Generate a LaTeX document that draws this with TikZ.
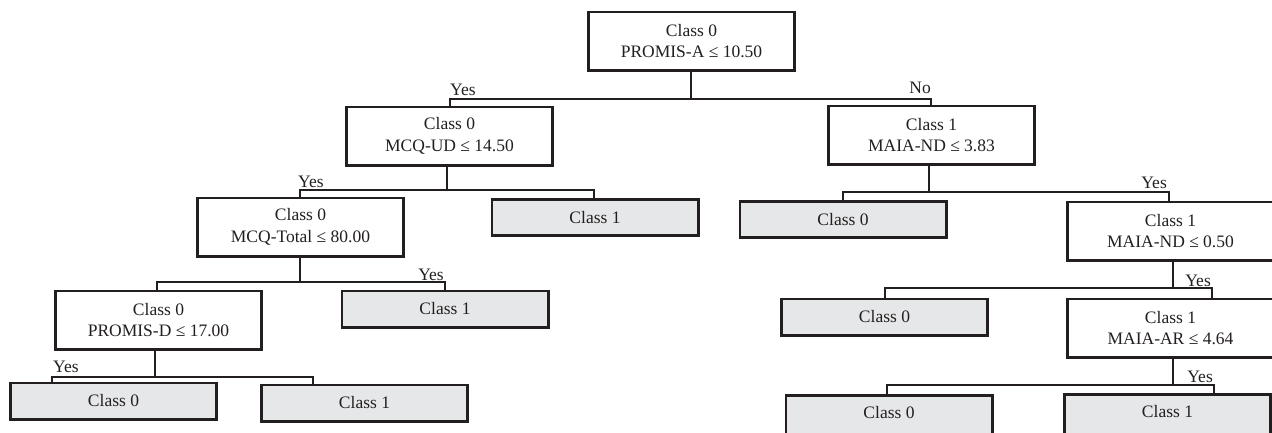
\documentclass[tikz,border=0pt]{standalone}
\usepackage{fontspec}
\setmainfont{Liberation Serif}
\definecolor{ink}{RGB}{35,31,32}
\definecolor{leafgray}{RGB}{230,231,232}
\begin{document}
\begin{tikzpicture}[x=1pt,y=-1pt,
  every node/.style={text=ink, font=\fontsize{17.5}{21.5}\selectfont},
  decision/.style={draw=ink, line width=2.6pt, fill=white, minimum width=206.4pt, minimum height=58.4pt, inner sep=0pt, align=center},
  leaf/.style={draw=ink, line width=2.6pt, fill=leafgray, minimum width=206.4pt, minimum height=36.4pt, inner sep=0pt, align=center},
  cutleaf/.style={leaf, minimum height=44pt, text height=12pt, text depth=0pt},
  conn/.style={draw=ink, line width=1.6pt},
  lab/.style={inner sep=0pt}]
\useasboundingbox (0,0) rectangle (1272,432);
\clip (0,0) rectangle (1272,432);
% decision nodes
\node[decision] (root)    at (691.5,41)  {Class 0\\PROMIS-A ≤ 10.50};
\node[decision] (mcqud)   at (449.5,136) {Class 0\\MCQ-UD ≤ 14.50};
\node[decision] (maia1)   at (931.5,135) {Class 1\\MAIA-ND ≤ 3.83};
\node[decision] (mcqtot)  at (300.5,227) {Class 0\\MCQ-Total ≤ 80.00};
\node[decision] (promisd) at (158.5,320) {Class 0\\PROMIS-D ≤ 17.00};
\node[decision] (maia2)   at (1170.5,231) {Class 1\\MAIA-ND ≤ 0.50};
\node[decision] (maiaar)  at (1170.5,328) {Class 1\\MAIA-AR ≤ 4.64};
% leaves
\node[leaf] (l1) at (595,217.5)  {Class 1};
\node[leaf] (l2) at (843,219.5)  {Class 0};
\node[leaf] (l3) at (445,309)    {Class 1};
\node[leaf] (l4) at (884.5,317)  {Class 0};
\node[leaf] (l5) at (113.5,401)  {Class 0};
\node[leaf] (l6) at (364.5,403)  {Class 1};
\node[cutleaf] (l7) at (889,417.3)  {\raisebox{5pt}{Class 0}};
\node[cutleaf] (l8) at (1167.5,416.3) {\raisebox{5pt}{Class 1}};
% junction coordinates
\coordinate (rJ) at (691,99);   \coordinate (rL) at (450,99);   \coordinate (rR) at (931,99);
\coordinate (aJ) at (447,190);  \coordinate (aL) at (300,190);  \coordinate (aR) at (594,190);
\coordinate (bJ) at (929,192);  \coordinate (bL) at (843,192);  \coordinate (bR) at (1169,192);
\coordinate (cJ) at (300,282);  \coordinate (cL) at (157,282);  \coordinate (cR) at (445,282);
\coordinate (dJ) at (155,377);  \coordinate (dL) at (52,377);   \coordinate (dR) at (313,377);
\coordinate (eJ) at (1173,288); \coordinate (eL) at (885,288);  \coordinate (eR) at (1212,288);
\coordinate (fJ) at (1173,385); \coordinate (fL) at (887,385);  \coordinate (fR) at (1214,385);
% connectors
\draw[conn] (root.south -| rJ) -- (rJ);
\draw[conn] (mcqud.north -| rL) -- (rL) -- (rR) -- (maia1.north -| rR);
\draw[conn] (mcqud.south -| aJ) -- (aJ);
\draw[conn] (mcqtot.north -| aL) -- (aL) -- (aR) -- (l1.north -| aR);
\draw[conn] (maia1.south -| bJ) -- (bJ);
\draw[conn] (l2.north -| bL) -- (bL) -- (bR) -- (maia2.north -| bR);
\draw[conn] (mcqtot.south -| cJ) -- (cJ);
\draw[conn] (promisd.north -| cL) -- (cL) -- (cR) -- (l3.north -| cR);
\draw[conn] (promisd.south -| dJ) -- (dJ);
\draw[conn] (l5.north -| dL) -- (dL) -- (dR) -- (l6.north -| dR);
\draw[conn] (maia2.south -| eJ) -- (eJ);
\draw[conn] (l4.north -| eL) -- (eL) -- (eR) -- (maiaar.north -| eR);
\draw[conn] (maiaar.south -| fJ) -- (fJ);
\draw[conn] (l7.north -| fL) -- (fL) -- (fR) -- (l8.north -| fR);
% branch labels
\node[lab, anchor=base west] (y1) at (450,95)   {Yes};
\node[lab, anchor=base east] (n1) at (931,93)   {No};
\node[lab, anchor=base west] (y2) at (298,187)  {Yes};
\node[lab, anchor=base east] (y3) at (1167,188) {Yes};
\node[lab, anchor=base east] (y4) at (444,280)  {Yes};
\node[lab, anchor=base west] (y5) at (53,372)   {Yes};
\node[lab, anchor=base east] (y6) at (1211,286) {Yes};
\node[lab, anchor=base east] (y7) at (1213,382) {Yes};
\end{tikzpicture}
\end{document}
